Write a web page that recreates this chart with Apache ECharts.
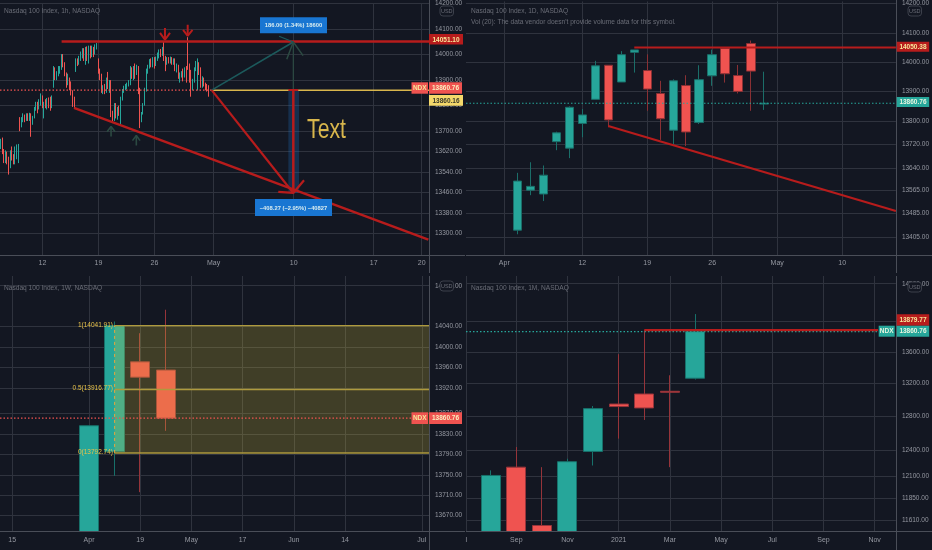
<!DOCTYPE html>
<html><head><meta charset="utf-8">
<style>html,body{margin:0;padding:0;background:#131722}#c{width:932px;height:550px}</style>
<script src="https://cdn.jsdelivr.net/npm/echarts@6/dist/echarts.min.js"></script>
</head><body><div id="c"></div>
<script>
// ---------- data ----------
const titles = ['Nasdaq 100 Index, 1h, NASDAQ','Nasdaq 100 Index, 1D, NASDAQ','Nasdaq 100 Index, 1W, NASDAQ','Nasdaq 100 Index, 1M, NASDAQ'];
const volumeNote = "Vol (20): The data vendor doesn't provide volume data for this symbol.";
const lastPrice = 13860.76;

// open, close, low, high — hourly bars
const hourlyBars = [
[13645,13665,13630,13670],[13665,13620,13610,13675],[13620,13585,13575,13630],[13585,13615,13575,13625],
[13615,13590,13570,13620],[13590,13560,13530,13600],[13560,13620,13555,13625],[13620,13595,13585,13640],
[13595,13575,13570,13610],[13575,13600,13570,13640],[13600,13640,13590,13648],[13590,13620,13575,13650],
[13750,13720,13700,13755],[13725,13745,13715,13755],[13745,13760,13735,13770],[13760,13745,13735,13765],
[13745,13760,13740,13770],[13760,13750,13740,13770],[13750,13765,13740,13772],[13765,13735,13678,13770],
[13735,13755,13725,13760],[13755,13790,13750,13795],[13790,13810,13780,13815],[13810,13790,13770,13815],
[13790,13820,13785,13825],[13820,13835,13800,13848],[13835,13800,13790,13840],[13785,13810,13750,13815],
[13810,13800,13790,13825],[13800,13825,13785,13830],[13825,13800,13790,13832],[13815,13795,13780,13835],
[13795,13835,13790,13840],[13875,13945,13870,13955],[13945,13910,13900,13950],[13910,13925,13900,13935],
[13925,13950,13915,13955],[13935,13950,13925,13955],[13950,14000,13940,14002],[14000,13960,13950,14002],
[13960,13925,13915,13970],[13925,13890,13870,13930],[13890,13900,13880,13925],[13900,13885,13860,13910],
[13885,13850,13840,13895],[13850,13820,13795,13860],[13830,13795,13790,13835],[13935,13980,13932,13985],
[13980,13965,13955,13985],[13965,13985,13960,13995],[13985,14005,13975,14012],[14005,14020,13985,14025],
[14020,13985,13975,14025],[13985,14020,13960,14030],[14020,13985,13975,14032],[13985,14015,13965,14035],
[14015,13995,13985,14035],[13995,14020,13990,14035],[14020,14005,13990,14030],[14005,14035,14000,14040],
[14035,14040,14020,14045],[13975,13935,13925,13985],[13935,13915,13900,13945],[13915,13860,13850,13925],
[13860,13875,13845,13880],[13875,13855,13845,13885],[13855,13900,13850,13910],[13900,13875,13865,13932],
[13870,13895,13850,13900],[13895,13765,13755,13900],[13765,13745,13738,13780],[13745,13805,13740,13810],
[13805,13760,13750,13810],[13760,13790,13745,13795],[13790,13770,13760,13800],[13770,13830,13725,13835],
[13830,13860,13820,13865],[13860,13870,13850,13878],[13870,13875,13860,13885],[13875,13880,13865,13890],
[13880,13890,13875,13900],[13890,13945,13880,13955],[13945,13920,13905,13950],[13920,13935,13900,13955],
[13935,13925,13905,13965],[13925,13950,13920,13960],[13950,13860,13845,13955],[13860,13765,13712,13870],
[13745,13770,13735,13775],[13770,13805,13765,13810],[13805,13860,13800,13870],[13860,13935,13855,13945],
[13935,13955,13925,13960],[13955,13975,13945,13982],[13975,13960,13950,13985],[13960,13985,13950,13990],
[13985,13960,13945,13990],[13960,13985,13955,13992],[13985,14000,13975,14008],[14000,14015,13985,14020],
[14015,14000,13990,14022],[14000,14025,13995,14030],[14025,13980,13975,14052],[13985,13965,13935,13995],
[13965,13985,13960,13990],[13985,13975,13965,13990],[13975,13985,13965,13992],[13985,13970,13960,13990],
[13970,13980,13960,13985],[13980,13945,13935,13985],[13945,13955,13930,13965],[13955,13915,13905,13960],
[13915,13925,13890,13930],[13925,13930,13910,13935],[13930,13915,13895,13945],[13915,13945,13910,13950],
[13945,13925,13890,13955],[14035,13955,13940,14068],[13955,13935,13890,13965],[13935,13865,13835,13940],
[13865,13900,13860,13905],[13900,13945,13890,13950],[13945,13970,13935,13975],[13865,13975,13860,13985],
[13965,13945,13920,13970],[13945,13880,13870,13950],[13880,13905,13870,13915],[13905,13885,13875,13910],
[13885,13880,13860,13890],[13880,13860,13855,13885],[13875,13860.76,13835,13880]
];
const hourlyTicks = [26,61,96,133,183,233,263];
const hourlyTickLabels = ['12','19','26','May','10','17','20'];
const hourlyPriceTicks = [14200,14100,14000,13900,13800,13700,13620,13540,13460,13380,13300];

// index, open, close, low, high — daily bars
const dailyBars = [
[1,13429,13596,13415,13624],[2,13565,13578,13548,13660],[3,13552,13616,13528,13649],[4,13730,13760,13701,13764],
[5,13708,13847,13674,13850],[6,13792,13821,13745,13841],[7,13874,13988,13874,14005],[8,13990,13804,13779,13990],
[9,13933,14026,13933,14038],[10,14034,14042,13965,14042],[11,13972,13909,13835,14027],[12,13894,13808,13736,13937],
[13,13769,13937,13722,13942],[14,13921,13763,13715,13956],[15,13795,13941,13790,13990],[16,13954,14026,13920,14043],
[17,14047,13961,13931,14047],[18,13955,13901,13894,13991],[19,14064,13970,13835,14074],[20,13858,13860.76,13838,13968]
];
const dailyTicks = [0,6,11,16,21,26];
const dailyTickLabels = ['Apr','12','19','26','May','10'];
const dailyPriceTicks = [14200,14100,14000,13900,13800,13720,13640,13565,13485,13405];

// index, open, close, low, high — weekly bars (first bar runs off the bottom of the pane)
const weeklyBars = [
[0,13639,13846,13639,13846],[1,13795,14042,13748,14050],[2,13971,13941,13716,14027],[3,13955,13860.76,13836,14073]
];
const weeklyTicks = [-3,0,2,4,6,8,10,13];
const weeklyTickLabels = ['15','Apr','19','May','17','Jun','14','Jul'];
const weeklyPriceTicks = [14120,14040,14000,13960,13920,13870,13830,13790,13750,13710,13670];
const fibLevels = [14041.91,13916.77,13792.74];
const fibLabels = ['1(14041.91)','0.5(13916.77)','0(13792.74)'];

// index, open, close, low, high — monthly bars (first four run off the bottom of the pane)
const monthlyBars = [
[0,11484,12106,11484,12164],[1,12201,11484,11484,12434],[2,11549,11484,11484,12201],[3,11484,12264,11484,12298],
[4,12383,12892,12220,12924],[5,12948,12917,12533,13570],[6,13071,12900,12755,13879.77],[7,13104,13092,12201,13303],
[8,13266,13860.76,13250,14092]
];
const monthlyTicks = [-0.95,1,3,5,7,9,11,13,15];
const monthlyTickLabels = ['l','Sep','Nov','2021','Mar','May','Jul','Sep','Nov'];
const monthlyPriceTicks = [14500,14000,13600,13200,12800,12400,12100,11850,11610];

// ---------- styles ----------
const BG='#131722', GRID='#2f333e', AXIS='#4a4e58', TXT='#9598a1', DIM='#6a6d77';
const UP='#26a69a', DOWN='#ef5350', RED='#b71c1c', GOLD='#d8b64c', DARKGREEN='#2c4a42', TEAL='#1c5a5c';
const NARROW='"Liberation Sans",sans-serif';

const panes = [
 {left:0,   width:429, top:0,   height:255,   xMin:-0.5,  xMax:267.6, yMin:13215, yMax:14201, ticks:hourlyTicks,  labels:hourlyTickLabels,  price:hourlyPriceTicks},
 {left:466, width:430, top:0,   height:255,   xMin:-2.946,xMax:30.13, yMin:13344.5,yMax:14207,ticks:dailyTicks,   labels:dailyTickLabels,   price:dailyPriceTicks},
 {left:0,   width:429, top:276, height:255.5, xMin:-3.477,xMax:13.28, yMin:13639, yMax:14139, ticks:weeklyTicks,  labels:weeklyTickLabels,  price:weeklyPriceTicks},
 {left:466, width:430, top:276, height:255.5, xMin:-0.965,xMax:15.83, yMin:11484, yMax:14606, ticks:monthlyTicks, labels:monthlyTickLabels, price:monthlyPriceTicks, log:true}
];

const grid = panes.map(p=>({left:p.left,top:p.top,width:p.width,height:p.height,containLabel:false}));
const xAxis = panes.map((p,i)=>({
  type:'value',gridIndex:i,min:p.xMin,max:p.xMax,
  axisLine:{show:false},axisTick:{show:false,customValues:p.ticks},
  splitLine:{show:true,lineStyle:{color:GRID,width:1}},
  axisLabel:{customValues:p.ticks,color:TXT,fontSize:7,fontFamily:NARROW,margin:5,showMinLabel:true,showMaxLabel:true,
    formatter:v=>{const k=p.ticks.indexOf(v);return k<0?'':p.labels[k];}}
}));
const yAxis = panes.map((p,i)=>({
  type:p.log?'log':'value',gridIndex:i,position:'right',min:p.yMin,max:p.yMax,
  axisLine:{show:false},axisTick:{show:false,customValues:p.price},
  splitLine:{show:true,lineStyle:{color:GRID,width:1}},
  axisLabel:{customValues:p.price,color:TXT,fontSize:6.5,fontFamily:NARROW,margin:6,formatter:v=>Number(v).toFixed(2)}
}));

const candle=(i,data,w,upB,downB,bw)=>({type:'candlestick',xAxisIndex:i,yAxisIndex:i,data,barWidth:w,
  encode:{x:0,y:[1,2,3,4]},silent:true,z:3,
  itemStyle:{color:UP,color0:DOWN,borderColor:upB,borderColor0:downB,borderWidth:bw}});
const poly=(i,pts,color,width,type,z)=>({type:'line',xAxisIndex:i,yAxisIndex:i,data:pts,symbol:'none',silent:true,z:z||6,
  lineStyle:{color,width,type:type||'solid'}});
const band=(i,x0,x1,y0,y1,fill,z)=>({type:'custom',xAxisIndex:i,yAxisIndex:i,data:[[x0,x1,y0,y1]],silent:true,z:z||5,
  encode:{x:[0,1],y:[2,3]},
  renderItem:(params,api)=>{
    const a=api.coord([api.value(0),api.value(2)]),b=api.coord([api.value(1),api.value(3)]);
    return {type:'rect',shape:{x:a[0],y:a[1],width:b[0]-a[0],height:b[1]-a[1]},style:{fill}};
  }});

const series=[
  // hourly pane
  candle(0,hourlyBars.map((b,i)=>[i,...b]),1.2,UP,DOWN,1),
  poly(0,[[-0.5,lastPrice],[131.8,lastPrice]],'#ef5350',1.2,[1.5,2]),
  poly(0,[[131.8,13860.16],[267.6,13860.16]],GOLD,1.5),
  band(0,179.7,186.4,13458,13860,'rgba(33,110,190,0.28)'),
  poly(0,[[38,14051.10],[267.6,14051.10]],RED,2.5),
  poly(0,[[45.75,13791],[267.2,13275]],RED,2.5),
  poly(0,[[131.8,13860.76],[182.8,14049]],TEAL,1.6),
  poly(0,[[182.8,13860.76],[182.8,14049]],DARKGREEN,1.2),
  poly(0,[[178.7,13982],[182.8,14049],[188.9,13996]],DARKGREEN,1.5),
  poly(0,[[173.9,14072],[182.8,14049]],TEAL,1.2),
  poly(0,[[131.8,13860.76],[182.8,13458]],RED,2.2),
  poly(0,[[182.8,13860.76],[182.8,13458]],RED,2.5),
  poly(0,[[179.7,13860.76],[185.9,13860.76]],RED,2),
  poly(0,[[173.4,13462],[182.8,13458],[189.5,13508]],RED,2.2),
  poly(0,[[102.6,14104],[102.6,14058]],RED,2),
  poly(0,[[99.5,14085],[102.6,14058],[105.75,14085]],RED,2),
  poly(0,[[116.8,14117],[116.8,14073.5]],RED,2),
  poly(0,[[113.9,14097],[116.8,14073.5],[119.8,14097]],RED,2),
  poly(0,[[68.9,13718],[68.9,13679]],DARKGREEN,1.6),
  poly(0,[[66.4,13698],[68.9,13718],[71.4,13698]],DARKGREEN,1.6),
  poly(0,[[84.7,13683],[84.7,13644]],DARKGREEN,1.6),
  poly(0,[[82.3,13663],[84.7,13683],[87,13663]],DARKGREEN,1.6),
  // daily pane
  candle(1,dailyBars,9,'#1b6e69','#8a3034',1),
  poly(1,[[-2.946,lastPrice],[30.13,lastPrice]],UP,1.2,[1.5,2]),
  poly(1,[[10,14050.38],[30.13,14050.38]],RED,2.2),
  poly(1,[[8,13783.4],[30.13,13494.4]],RED,2.2),
  // weekly pane
  candle(2,weeklyBars,20,'#17706a','#96343a',1),
  poly(2,[[-3.477,lastPrice],[12.6,lastPrice]],'#ef5350',1.2,[1.5,2],6),
  band(2,1,13.28,fibLevels[2],fibLevels[0],'rgba(228,205,57,0.22)'),
  ...fibLevels.map(v=>poly(2,[[1,v],[13.28,v]],'#ae9a3e',1.4)),
  poly(2,[[1,fibLevels[2]],[1,fibLevels[0]]],'#e8a53a',1,[3,3]),
  // monthly pane
  candle(3,monthlyBars,19.5,'#17706a','#96343a',1),
  poly(3,[[-0.965,lastPrice],[15.13,lastPrice]],UP,1.2,[1.5,2]),
  poly(3,[[6,13879.77],[15.13,13879.77]],RED,2.2)
];
series.forEach(s=>{s.animation=false;});

// ---------- non-data furniture ----------
const G=[];
const text=(t,x,y,fill,font,align,sx)=>G.push({type:'text',x,y,z:60,silent:true,scaleX:sx||1,style:{text:t,fill,font,align:align||'left',verticalAlign:'middle'}});
const rect=(x,y,w,h,fill,z,extra)=>G.push({type:'rect',z:z||50,silent:true,shape:Object.assign({x,y,width:w,height:h},extra||{}),style:{fill}});
const seg=(x1,y1,x2,y2)=>G.push({type:'line',z:40,silent:true,shape:{x1,y1,x2,y2},style:{stroke:AXIS,lineWidth:1}});
const font=(s,b)=>`${b?'bold ':''}${s}px ${NARROW}`;
const tag=(x,y,w,h,bg,t,fg,fs)=>{rect(x,y,w,h,bg);text(t,x+w/2,y+h/2+.5,fg,font(fs||6.5,true),'center');};

[[0,255.5,465,429.5,273],[466,255.5,932,896.5,273],[0,531.5,465,429.5,550],[466,531.5,932,896.5,550]].forEach(a=>{seg(a[0],a[1],a[2],a[1]);seg(a[3],a[1]-255.5>0?a[1]-255.5:0,a[3],a[4]);});
[[4,11],[471,11],[4,288],[471,288]].forEach((p,i)=>text(titles[i],p[0],p[1],DIM,font(6.6)));
text(volumeNote,471,22.5,DIM,font(6.6));
[[440,6],[908,6],[440,281],[908,282]].forEach(p=>{
  G.push({type:'rect',z:55,silent:true,shape:{x:p[0],y:p[1],width:13.5,height:10,r:3},style:{fill:BG,stroke:'#3c404b',lineWidth:1}});
  text('USD',p[0]+6.75,p[1]+5.3,'#6a6d77',font(5.5),'center');});

tag(429,34,34,10.5,RED,'14051.10','#f6e79a');
tag(411.5,82.3,16.5,11.4,DOWN,'NDX','#f6e79a');
tag(429,82.3,33,11.4,DOWN,'13860.76','#f9f0c0');
tag(429,95,34,10.7,'#f5d96b','13860.16','#3a3a2a');
tag(896.7,41.7,32.5,10,RED,'14050.38','#f6e79a');
tag(896.7,97,32.5,10,UP,'13860.76','#e8f5e0');
tag(411.5,412.3,16.5,11.7,DOWN,'NDX','#f6e79a');
tag(429,412.3,33,11.7,DOWN,'13860.76','#f9f0c0');
tag(896.7,314.3,32.5,11.4,RED,'13879.77','#f6e79a');
tag(878.7,325.7,16,11,UP,'NDX','#e8f5e0');
tag(896.7,325.7,32.5,11,UP,'13860.76','#e8f5e0');

tag(260,17.3,67,16,'#1976d2','186.00 (1.34%) 18600','#d8ecf0',5.8);
tag(255,199,77,17,'#1976d2','−408.27 (−2.95%) −40827','#d8ecf0',5.8);
text('Text',307,130,GOLD,font(28),'left',0.76);
fibLabels.forEach((t,i)=>text(t,113,[325,388,452][i],'#e8c34a',font(6.5),'right'));

const chart=echarts.init(document.getElementById('c'),null,{renderer:'canvas',width:932,height:550});
chart.setOption({animation:false,backgroundColor:BG,grid,xAxis,yAxis,series,graphic:{elements:G}});
</script></body></html>
